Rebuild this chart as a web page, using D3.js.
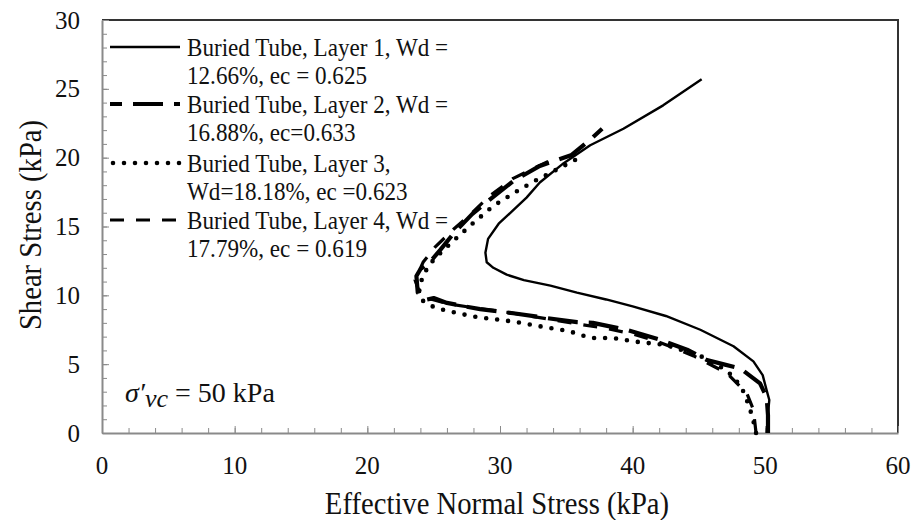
<!DOCTYPE html>
<html>
<head>
<meta charset="utf-8">
<script src="https://cdn.jsdelivr.net/npm/d3@7"></script>
<style>
  html, body { margin: 0; padding: 0; background: #fff; }
  svg { display: block; }
  text { font-family: "Liberation Serif", "Times New Roman", serif; fill: #111; }
</style>
</head>
<body>
<svg id="chart" width="914" height="520"></svg>
<script>
// Stress path data: [effective normal stress (kPa), shear stress (kPa)]
const layer1 = [
  [50.1, 0], [50.2, 1.4], [50.3, 2.4], [50.1, 3.1], [49.8, 4.2], [49.1, 5.2],
  [47.6, 6.3], [45.1, 7.5], [42.5, 8.5], [40.0, 9.2], [38.0, 9.7], [35.8, 10.2],
  [33.8, 10.7], [31.8, 11.1], [30.5, 11.5], [29.5, 12.0], [29.0, 12.4], [28.9, 13.1],
  [29.1, 14.1], [29.9, 15.2], [30.9, 16.1], [32.0, 17.1], [33.0, 18.2], [34.8, 19.6],
  [36.8, 20.9], [39.3, 22.1], [42.3, 23.8], [45.2, 25.7]
];
const layer2 = [
  [50.2, 0], [50.2, 1.3], [50.1, 2.6], [49.6, 3.6], [48.1, 4.7], [46.8, 5.0],
  [45.6, 5.3], [44.1, 6.05], [42.0, 6.8], [39.5, 7.5], [37.0, 8.0], [35.8, 8.05],
  [33.5, 8.35], [31.0, 8.7], [28.5, 9.0], [27.6, 9.15], [26.0, 9.45], [25.0, 9.8],
  [24.5, 9.7], [23.8, 10.2], [23.7, 11.4], [24.0, 11.9], [24.7, 12.4], [25.5, 13.3],
  [26.5, 14.5], [27.9, 15.9], [29.3, 17.0], [31.0, 18.3], [33.0, 19.4], [35.4, 20.2],
  [36.8, 21.3], [37.7, 22.1]
];
const layer3 = [
  [49.3, 0], [49.2, 0.5], [48.8, 1.9], [48.3, 3.1], [47.6, 4.1], [46.8, 4.7],
  [45.1, 5.6], [42.5, 6.4], [40.5, 6.6], [38.5, 6.9], [36.8, 6.9], [35.2, 7.4],
  [33.3, 7.7], [31.6, 8.0], [30.2, 8.2], [28.4, 8.4], [26.8, 8.7], [25.1, 9.1],
  [24.2, 9.6], [23.9, 10.4], [24.2, 11.5], [25.0, 12.6], [26.3, 13.8], [27.8, 15.1],
  [29.5, 16.5], [31.5, 17.7], [32.8, 18.4], [34.8, 19.4], [35.8, 19.9]
];
const layer4 = [
  [49.3, 0], [49.1, 1.7], [48.6, 2.9], [47.1, 4.35], [44.6, 5.6], [42.0, 6.6],
  [40.0, 7.2], [38.0, 7.6], [36.0, 7.9], [33.5, 8.3], [31.0, 8.7], [28.0, 9.1],
  [26.0, 9.4], [24.5, 9.8], [24.0, 10.0], [23.6, 11.1], [24.2, 12.4], [25.1, 13.5],
  [26.5, 14.8], [27.9, 16.0], [29.2, 17.2], [31.0, 18.5], [32.5, 19.2], [33.8, 19.8]
];

const seriesNames = [
  ["Buried Tube, Layer 1, Wd =", "12.66%, ec = 0.625"],
  ["Buried Tube, Layer 2, Wd =", "16.88%, ec=0.633"],
  ["Buried Tube, Layer 3,", "Wd=18.18%, ec =0.623"],
  ["Buried Tube, Layer 4, Wd =", "17.79%, ec = 0.619"]
];
const xTicks = [0, 10, 20, 30, 40, 50, 60];
const yTicks = [0, 5, 10, 15, 20, 25, 30];

// Line styles per layer
const styles = [
  { width: 2.4, dash: null, cap: "butt" },
  { width: 4.2, dash: "30,11", cap: "butt" },
  { width: 4.6, dash: "0,11", cap: "round" },
  { width: 3.2, dash: "14,12", cap: "butt" }
];

const svg = d3.select("#chart");
const plotLeft = 102, plotRight = 898, plotTop = 20, plotBottom = 433;
const condense = 0.925;

const x = d3.scaleLinear().domain([0, 60]).range([plotLeft, plotRight]);
const y = d3.scaleLinear().domain([0, 30]).range([plotBottom, plotTop]);

// Frame: top and right edges
svg.append("path")
  .attr("d", `M${plotLeft},${plotTop}H${plotRight}V${plotBottom}`)
  .attr("fill", "none").attr("stroke", "#333").attr("stroke-width", 2);

// Axes with inward minor and major ticks
const axisColor = "#8a8a8a";
const gx = svg.append("g").attr("transform", `translate(0,${plotBottom})`);
gx.append("g")
  .call(d3.axisTop(x).tickValues(d3.range(0, 61, 2)).tickSize(5).tickFormat(""))
  .call(g => g.select(".domain").remove());
gx.append("g")
  .call(d3.axisTop(x).tickValues(xTicks).tickSize(7).tickSizeOuter(0).tickFormat(""));
gx.selectAll("line").attr("stroke", axisColor);
gx.selectAll(".domain").attr("stroke", axisColor).attr("stroke-width", 2);

const gy = svg.append("g").attr("transform", `translate(${plotLeft},0)`);
gy.append("g")
  .call(d3.axisRight(y).tickValues(d3.range(0, 31, 1)).tickSize(5).tickFormat(""))
  .call(g => g.select(".domain").remove());
gy.append("g")
  .call(d3.axisRight(y).tickValues(yTicks).tickSize(7).tickSizeOuter(0).tickFormat(""));
gy.selectAll("line").attr("stroke", axisColor);
gy.selectAll(".domain").attr("stroke", axisColor).attr("stroke-width", 2);

// Tick labels
svg.append("g").selectAll("text").data(xTicks).join("text")
  .attr("x", d => x(d)).attr("y", 474)
  .attr("text-anchor", "middle").attr("font-size", 25)
  .text(d => d);
svg.append("g").selectAll("text").data(yTicks).join("text")
  .attr("x", 80).attr("y", d => y(d) + 8.5)
  .attr("text-anchor", "end").attr("font-size", 25)
  .text(d => d);

// Axis titles
svg.append("text")
  .attr("transform", `translate(497,514) scale(${condense},1)`)
  .attr("text-anchor", "middle").attr("font-size", 31)
  .text("Effective Normal Stress (kPa)");
svg.append("text")
  .attr("transform", `translate(41,225) rotate(-90) scale(${condense},1)`)
  .attr("text-anchor", "middle").attr("font-size", 31)
  .text("Shear Stress (kPa)");

// Consolidation stress annotation
const ann = svg.append("text").attr("x", 125).attr("y", 402).attr("font-size", 28);
ann.append("tspan").attr("font-style", "italic").text("σ′");
ann.append("tspan").attr("font-style", "italic").attr("dy", 5).attr("font-size", 26).text("vc");
ann.append("tspan").attr("dy", -5).text(" = 50 kPa");

// Legend
const legendY = [47, 104, 163, 220];
const legend = svg.append("g");
seriesNames.forEach((lines, i) => {
  const st = styles[i];
  legend.append("line")
    .attr("x1", 110).attr("x2", 180)
    .attr("y1", legendY[i]).attr("y2", legendY[i])
    .attr("stroke", "#000").attr("stroke-width", st.width)
    .attr("stroke-dasharray", st.dash).attr("stroke-linecap", st.cap)
    .attr("stroke-dashoffset", i === 1 ? 18 : (i === 2 ? -3 : 0));
  const t = legend.append("text")
    .attr("transform", `translate(187,${legendY[i] + 9}) scale(${condense},1)`)
    .attr("font-size", 25);
  t.append("tspan").attr("x", 0).text(lines[0]);
  t.append("tspan").attr("x", 0).attr("dy", 28).text(lines[1]);
});

// Stress paths
const line = d3.line().x(d => x(d[0])).y(d => y(d[1]));
const layers = [layer1, layer2, layer3, layer4];
svg.append("g").selectAll("path").data(layers).join("path")
  .attr("d", d => line(d))
  .attr("fill", "none").attr("stroke", "#000")
  .attr("stroke-linejoin", "round")
  .attr("stroke-width", (d, i) => styles[i].width)
  .attr("stroke-dasharray", (d, i) => styles[i].dash)
  .attr("stroke-linecap", (d, i) => styles[i].cap);
</script>
</body>
</html>
